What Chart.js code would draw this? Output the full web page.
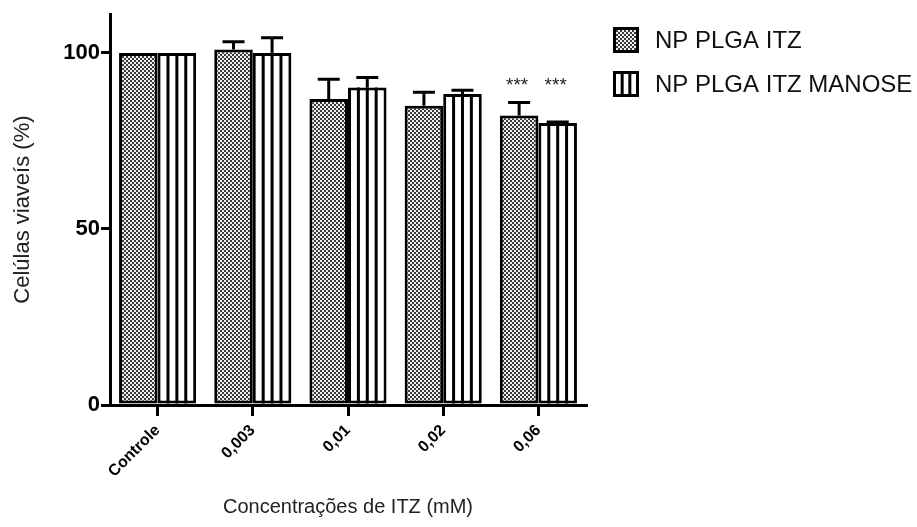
<!DOCTYPE html>
<html>
<head>
<meta charset="utf-8">
<script src="https://cdn.jsdelivr.net/npm/chart.js@4"></script>
<style>
  html, body { margin: 0; padding: 0; background: #fff; }
</style>
</head>
<body>
<canvas id="myChart" width="917" height="527"></canvas>
<script>
const categories = ["Controle", "0,003", "0,01", "0,02", "0,06"];
const seriesNames = ["NP PLGA ITZ", "NP PLGA ITZ MANOSE"];
const itzValues = [100, 101, 86.9, 85, 82.2];
const itzErrors = [0, 2.2, 5.6, 3.8, 3.7];
const manoseValues = [100, 100, 90.2, 88.3, 80.1];
const manoseErrors = [0, 4.3, 2.8, 1.1, 0.3];
const itzMarks = ["", "", "", "", "***"];
const manoseMarks = ["", "", "", "", "***"];
const yTicks = [0, 50, 100];

const FONT = "'Liberation Sans', Arial, sans-serif";
const ctx = document.getElementById("myChart").getContext("2d");

// grey checker fill used for the ITZ bars
function dotPattern() {
  const c = document.createElement("canvas");
  c.width = 4;
  c.height = 4;
  const g = c.getContext("2d");
  g.fillStyle = "#3a3a3a";
  g.fillRect(0, 0, 4, 4);
  g.fillStyle = "#f0f0f0";
  g.fillRect(0, 0, 2, 2);
  g.fillRect(2, 2, 2, 2);
  return ctx.createPattern(c, "repeat");
}
const dots = dotPattern();

function drawStripes(g, left, right, top, bottom, n) {
  const inner = right - left - 3;
  g.beginPath();
  for (let k = 1; k < n; k++) {
    const x = left + 1.5 + (k * inner) / n;
    g.moveTo(x, top);
    g.lineTo(x, bottom);
  }
  g.stroke();
}

// error bars (upper only), vertical stripes and significance marks
const barExtras = {
  id: "barExtras",
  afterDatasetsDraw(chart) {
    const g = chart.ctx;
    const yScale = chart.scales.y;
    g.save();
    g.strokeStyle = "#000";
    g.lineWidth = 3;

    chart.data.datasets.forEach((ds, di) => {
      const meta = chart.getDatasetMeta(di);
      meta.data.forEach((bar, i) => {
        const { x, y, base, width } = bar.getProps(["x", "y", "base", "width"], true);
        if (ds.striped) {
          drawStripes(g, x - width / 2, x + width / 2, y, base, 4);
        }
        const err = ds.errors[i];
        if (err > 0) {
          const yTop = yScale.getPixelForValue(ds.data[i] + err);
          g.beginPath();
          g.moveTo(x, y);
          g.lineTo(x, yTop);
          g.moveTo(x - 11, yTop);
          g.lineTo(x + 11, yTop);
          g.stroke();
        }
      });
    });

    // asterisks sit above the tallest error bar of the group
    g.fillStyle = "#222";
    g.font = "19px " + FONT;
    g.textAlign = "center";
    g.textBaseline = "alphabetic";
    categories.forEach((cat, i) => {
      let top = Infinity;
      chart.data.datasets.forEach((ds) => {
        top = Math.min(top, yScale.getPixelForValue(ds.data[i] + ds.errors[i]));
      });
      chart.data.datasets.forEach((ds, di) => {
        if (!ds.marks[i]) return;
        const bar = chart.getDatasetMeta(di).data[i];
        g.fillText(ds.marks[i], bar.x - 2, top - 12);
      });
    });
    g.restore();
  },
};

// legend on the right with the patterned boxes
const sideLegend = {
  id: "sideLegend",
  afterDraw(chart) {
    const g = chart.ctx;
    const x0 = chart.chartArea.right + 27;
    const rows = [40, 84];
    const size = 26;
    g.save();
    chart.data.datasets.forEach((ds, di) => {
      const top = rows[di] - size / 2;
      g.fillStyle = ds.striped ? "#fff" : dots;
      g.fillRect(x0, top, size, size);
      g.strokeStyle = "#000";
      g.lineWidth = 3;
      g.strokeRect(x0 + 1.5, top + 1.5, size - 3, size - 3);
      if (ds.striped) drawStripes(g, x0, x0 + size, top, top + size, 3);
      g.fillStyle = "#111";
      g.font = "24px " + FONT;
      g.textAlign = "left";
      g.textBaseline = "middle";
      g.fillText(seriesNames[di], x0 + 42, rows[di] + 1);
    });
    g.restore();
  },
};

const myChart = new Chart(ctx, {
  type: "bar",
  data: {
    labels: categories,
    datasets: [
      {
        label: seriesNames[0],
        data: itzValues,
        errors: itzErrors,
        marks: itzMarks,
        striped: false,
        backgroundColor: dots,
        borderColor: "#000",
        borderWidth: 3,
        borderSkipped: false,
      },
      {
        label: seriesNames[1],
        data: manoseValues,
        errors: manoseErrors,
        marks: manoseMarks,
        striped: true,
        backgroundColor: "#fff",
        borderColor: "#000",
        borderWidth: 3,
        borderSkipped: false,
      },
    ],
  },
  options: {
    responsive: false,
    animation: false,
    categoryPercentage: 0.81,
    barPercentage: 1,
    layout: { padding: { top: 13, right: 331, left: 0, bottom: 0 } },
    plugins: {
      legend: { display: false },
      tooltip: { enabled: false },
    },
    scales: {
      x: {
        afterFit: (scale) => { scale.height = 122; },
        border: { display: true, color: "#000", width: 3 },
        grid: { drawOnChartArea: false, offset: false, color: "#000", lineWidth: 3, tickLength: 11 },
        ticks: {
          color: "#000",
          font: { family: FONT, size: 16, weight: "bold" },
          minRotation: 45,
          maxRotation: 45,
          padding: 5,
        },
        title: {
          display: true,
          text: "Concentrações de ITZ (mM)",
          color: "#222",
          font: { family: FONT, size: 20 },
          padding: { top: 0, bottom: 8 },
        },
      },
      y: {
        min: 0,
        max: 111,
        afterBuildTicks: (scale) => { scale.ticks = yTicks.map((v) => ({ value: v })); },
        afterFit: (scale) => { scale.width = 110; },
        border: { display: true, color: "#000", width: 3 },
        grid: { drawOnChartArea: false, color: "#000", lineWidth: 3, tickLength: 9 },
        ticks: {
          color: "#000",
          font: { family: FONT, size: 22, weight: "bold" },
          padding: 1,
        },
        title: {
          display: true,
          text: "Celúlas viaveís (%)",
          color: "#222",
          font: { family: FONT, size: 22 },
          padding: { top: 10, bottom: 0 },
        },
      },
    },
  },
  plugins: [barExtras, sideLegend],
});
</script>
</body>
</html>
